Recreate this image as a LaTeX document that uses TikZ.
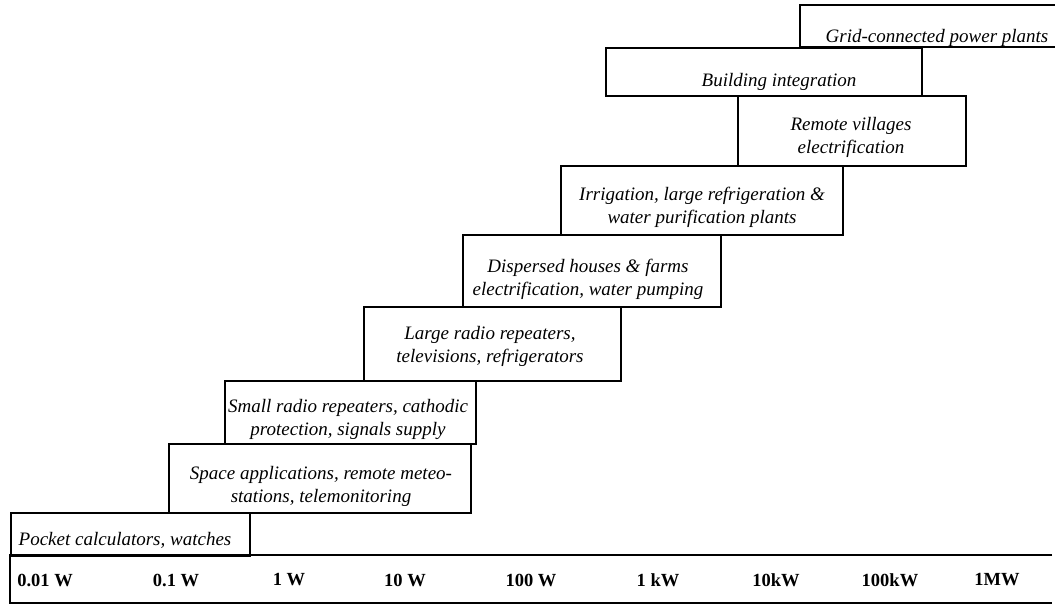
\documentclass[tikz,border=0pt]{standalone}
\usepackage{fontspec}
\setmainfont{Liberation Serif}
\begin{document}
\begin{tikzpicture}[x=1pt,y=-1pt,
  box/.style={draw, line width=1.6pt, rectangle, inner sep=0pt, anchor=north west},
  lbl/.style={font=\fontsize{19}{23}\selectfont\itshape, align=center, inner sep=0pt, anchor=center},
  ax/.style={font=\fontsize{18.5}{22}\selectfont\bfseries, inner sep=0pt, anchor=center},
  edge/.style={line width=1.6pt}]
\useasboundingbox (0,0) rectangle (1055,605);
% axis strip (right side open)
\coordinate (axTR) at (1052,555);
\coordinate (axTL) at (10,555);
\coordinate (axBL) at (10,603);
\coordinate (axBR) at (1052,603);
\draw[edge] (axTR) -- (axTL) -- (axBL) -- (axBR);
% boxes
\node[box, minimum width=239pt, minimum height=43pt] (pocket) at (10,512) {};
\node[box, minimum width=302pt, minimum height=69pt] (space) at (168,443) {};
\node[box, minimum width=251pt, minimum height=63pt] (small) at (224,380) {};
\node[box, minimum width=257pt, minimum height=74pt] (large) at (363,306) {};
\node[box, minimum width=258pt, minimum height=72pt] (disp) at (462,234) {};
\node[box, minimum width=282pt, minimum height=69pt] (irr) at (560,165) {};
\node[box, minimum width=228pt, minimum height=70pt] (remote) at (737,95) {};
\node[box, minimum width=316pt, minimum height=48pt] (build) at (605,47) {};
% grid box (right side open at the picture edge)
\coordinate (gTR) at (1058,5);
\coordinate (gTL) at (800,5);
\coordinate (gBL) at (800,47);
\coordinate (gBR) at (1058,47);
\draw[edge] (gTR) -- (gTL) -- (gBL) -- (gBR);
% labels
\node[lbl] (tpocket) at (125,540) {Pocket calculators, watches};
\node[lbl] (tspace) at (321,486) {Space applications, remote meteo-\\stations, telemonitoring};
\node[lbl] (tsmall) at (348,419) {Small radio repeaters, cathodic\\protection, signals supply};
\node[lbl] (tlarge) at (490,346) {Large radio repeaters,\\televisions, refrigerators};
\node[lbl] (tdisp) at (588,279) {Dispersed houses \& farms\\electrification, water pumping};
\node[lbl] (tirr) at (702,207) {Irrigation, large refrigeration \&\\water purification plants};
\node[lbl] (tremote) at (851,137) {Remote villages\\electrification};
\node[lbl] (tbuild) at (779,82) {Building integration};
\node[lbl] (tgrid) at (937,38) {Grid-connected power plants};
% axis labels
\node[ax] (a1) at (45,580) {0.01 W};
\node[ax] (a2) at (176,580) {0.1 W};
\node[ax] (a3) at (289,580) {1 W};
\node[ax] (a4) at (405,580) {10 W};
\node[ax] (a5) at (531,580) {100 W};
\node[ax] (a6) at (658,580) {1 kW};
\node[ax] (a7) at (776,580) {10kW};
\node[ax] (a8) at (890,580) {100kW};
\node[ax] (a9) at (997,580) {1MW};
\end{tikzpicture}
\end{document}
